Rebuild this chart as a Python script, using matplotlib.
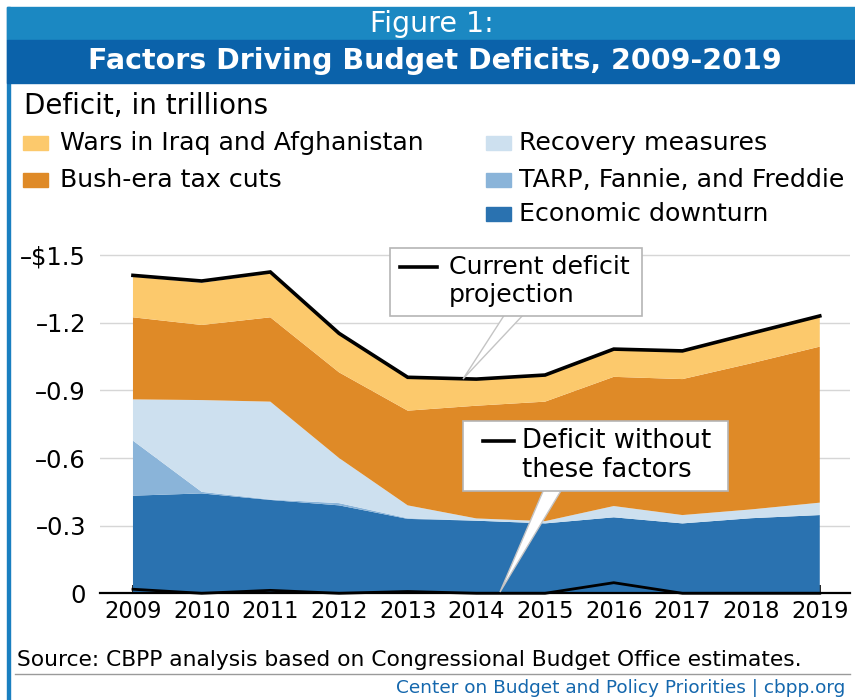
import matplotlib
matplotlib.use("Agg")
import matplotlib.pyplot as plt
from matplotlib.patches import Rectangle, Polygon

plt.rcParams['font.family'] = ['DejaVu Sans']

# data (trillions of dollars, deficit shown as positive height)
years = [2009, 2010, 2011, 2012, 2013, 2014, 2015, 2016, 2017, 2018, 2019]
econ_downturn = [0.433, 0.443, 0.414, 0.390, 0.330, 0.322, 0.310, 0.337, 0.310, 0.333, 0.347]
tarp = [0.244, 0.007, 0.002, 0.010, 0.003, 0.000, 0.000, 0.000, 0.000, 0.000, 0.000]
recovery = [0.183, 0.407, 0.434, 0.200, 0.057, 0.010, 0.010, 0.050, 0.037, 0.039, 0.055]
tax_cuts = [0.364, 0.333, 0.374, 0.380, 0.420, 0.500, 0.530, 0.573, 0.603, 0.648, 0.692]
wars = [0.180, 0.187, 0.195, 0.173, 0.148, 0.118, 0.118, 0.123, 0.125, 0.133, 0.136]
current_deficit = [1.41, 1.385, 1.425, 1.153, 0.958, 0.95, 0.968, 1.083, 1.075, 1.153, 1.23]
without_factors = [0.018, 0.0, 0.013, 0.0, 0.008, 0.0, 0.0, 0.047, 0.0, 0.0, 0.0]

series_names = ["Economic downturn", "TARP, Fannie, and Freddie", "Recovery measures",
                "Bush-era tax cuts", "Wars in Iraq and Afghanistan"]
colors = ["#2a72b0", "#8ab4d9", "#cde0ef", "#df8a27", "#fcc96c"]
ytick_vals = [0, 0.3, 0.6, 0.9, 1.2, 1.5]
ytick_labels = ["0", "\u20130.3", "\u20130.6", "\u20130.9", "\u20131.2", "\u2013$1.5"]

W, H = 855, 700
fig = plt.figure(figsize=(W / 100, H / 100), dpi=100)


def fx(x):
    return x / W


def fy(y):
    return 1 - y / H


# frame and banner
fig.patches.append(Rectangle((fx(7), 0), fx(3), fy(7), transform=fig.transFigure,
                             color="#1a7fc0", zorder=0))
fig.patches.append(Rectangle((fx(7), fy(40)), 1, fy(7) - fy(40), transform=fig.transFigure,
                             color="#1b88c2", zorder=0))
fig.patches.append(Rectangle((fx(7), fy(83)), 1, fy(40) - fy(83), transform=fig.transFigure,
                             color="#0b62aa", zorder=0))
fig.text(fx(432), fy(24), "Figure 1:", color="white", fontsize=20.5, ha="center", va="center")
fig.text(fx(435), fy(61), "Factors Driving Budget Deficits, 2009-2019", color="white",
         fontsize=20.5, fontweight="bold", ha="center", va="center")

fig.text(fx(24), fy(106), "Deficit, in trillions", fontsize=20, ha="left", va="center")

# legend: (square x, row y, text x, series index)
legend_pos = [(23, 143, 60, 4), (23, 180, 60, 3), (486, 143, 519, 2),
              (486, 180, 519, 1), (486, 214, 519, 0)]
for lx, ly, tx, i in legend_pos:
    fig.patches.append(Rectangle((fx(lx), fy(ly + 7)), fx(25), fy(ly - 7) - fy(ly + 7),
                                 transform=fig.transFigure, color=colors[i]))
    fig.text(fx(tx), fy(ly), series_names[i], fontsize=18.2, ha="left", va="center")

# chart
ax = fig.add_axes([fx(100), fy(593.3), fx(850) - fx(100), fy(243.8) - fy(593.3)])
ax.stackplot(years, econ_downturn, tarp, recovery, tax_cuts, wars, colors=colors,
             linewidth=0, zorder=2)
ax.plot(years, current_deficit, color="black", lw=2.6, zorder=4, solid_joinstyle="miter")
ax.plot(years, without_factors, color="black", lw=2.0, zorder=6, clip_on=False)

ax.set_xlim(2008.52, 2019.44)
ax.set_ylim(0, 1.55)
ax.set_yticks(ytick_vals)
ax.set_yticklabels(ytick_labels, fontsize=17.5)
ax.set_xticks(years)
ax.set_xticklabels([str(y) for y in years], fontsize=16.3)
ax.yaxis.grid(True, color="#d6d6d6", lw=1, zorder=0)
ax.set_axisbelow(True)
for s in ["top", "right", "left"]:
    ax.spines[s].set_visible(False)
ax.spines["bottom"].set_linewidth(1.6)
ax.spines["bottom"].set_zorder(5)
ax.tick_params(axis="y", length=0, pad=10)
ax.tick_params(axis="x", direction="in", length=6, width=1.2, pad=5)


# annotation boxes with pointers
def callout(box, wedge, lines_y, sample_x, text_x, text, size):
    x0, y0, x1, y1 = box
    fig.patches.append(Polygon([(fx(x), fy(y)) for x, y in wedge], closed=True,
                               transform=fig.transFigure, facecolor="white",
                               edgecolor="#c4c4c4", lw=1, zorder=6))
    fig.patches.append(Rectangle((fx(x0), fy(y1)), fx(x1) - fx(x0), fy(y0) - fy(y1),
                                 transform=fig.transFigure, facecolor="white",
                                 edgecolor="#b5b5b5", lw=1.2, zorder=7))
    fig.lines.append(plt.Line2D([fx(sample_x[0]), fx(sample_x[1])], [fy(lines_y[0])] * 2,
                                transform=fig.transFigure, color="black", lw=2.6, zorder=8))
    for t, yy in zip(text, lines_y):
        fig.text(fx(text_x), fy(yy), t, fontsize=size, ha="left", va="center", zorder=8)


callout((390, 248, 642, 316), [(505, 314), (524, 314), (463, 379)], (267, 295),
        (400, 437), 449, ["Current deficit", "projection"], 18.2)
callout((463, 421, 728, 491), [(544, 489), (562, 489), (500, 592)], (441, 470),
        (483, 514), 522, ["Deficit without", "these factors"], 18.6)

# footer
fig.text(fx(17), fy(660), "Source: CBPP analysis based on Congressional Budget Office estimates.",
         fontsize=15.7, ha="left", va="center")
fig.lines.append(plt.Line2D([fx(15), fx(850)], [fy(674)] * 2, transform=fig.transFigure,
                            color="#9a9a9a", lw=1))
fig.text(fx(845), fy(688), "Center on Budget and Policy Priorities | cbpp.org",
         fontsize=13.3, color="#1467ad", ha="right", va="center")

fig.savefig("out.png", dpi=100)
